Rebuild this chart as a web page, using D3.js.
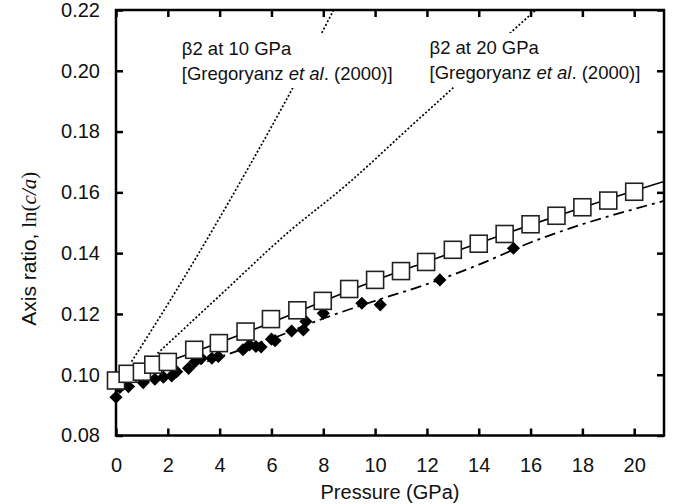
<!DOCTYPE html>
<html lang="en">
<head>
  <meta charset="utf-8">
  <title>Axis ratio vs pressure</title>
  <script src="https://cdnjs.cloudflare.com/ajax/libs/d3/7.6.1/d3.min.js"></script>
  <style>
    body { margin: 0; background: white; }
    text { font-family: "Liberation Sans", Arial, sans-serif; fill: #111; }
  </style>
</head>
<body>
  <div id="chart"></div>
  <script>
    // open squares: pressure (GPa) and ln(c/a)
    const squareP = [0, 0.45, 1, 1.44, 2, 3.02, 3.97, 5, 5.98, 7, 7.98, 9, 10, 11, 11.97, 13, 14, 15, 16, 17, 18, 19, 20];
    const squareV = [0.0981, 0.1003, 0.101, 0.1033, 0.1042, 0.1082, 0.1104, 0.1142, 0.1183, 0.1212, 0.1243, 0.1282,
                     0.1312, 0.1341, 0.1371, 0.1411, 0.1431, 0.1463, 0.1495, 0.1523, 0.1551, 0.1573, 0.1602];

    // filled diamonds
    const diamondP = [0, 0.15, 0.48, 1.05, 1.5, 1.83, 2.15, 2.34, 2.8, 3.05, 3.3, 3.7, 3.95, 4.9, 5.15, 5.4, 5.6,
                      6.0, 6.14, 6.78, 7.23, 7.33, 8.0, 9.49, 10.2, 12.5, 15.34];
    const diamondV = [0.0926, 0.0958, 0.0961, 0.0974, 0.0985, 0.0992, 0.0996, 0.101, 0.1021, 0.1043, 0.1054, 0.1054,
                      0.106, 0.1082, 0.1098, 0.1093, 0.1091, 0.1117, 0.1112, 0.1144, 0.1147, 0.1175, 0.1202, 0.1235,
                      0.123, 0.1312, 0.1416];

    // fitted curves
    const fitSquareP = [0, 1, 2, 4, 6, 8, 10, 12, 14, 16, 18, 20, 21.15];
    const fitSquareV = [0.0982, 0.1012, 0.1043, 0.1106, 0.1172, 0.1242, 0.131, 0.1372, 0.1433, 0.1493, 0.155, 0.1605, 0.1636];
    const fitDiamondP = [0, 2, 4, 6, 8, 10, 12, 14, 16, 18, 20, 21.15];
    const fitDiamondV = [0.0945, 0.0998, 0.1058, 0.1118, 0.1185, 0.1243, 0.1298, 0.1362, 0.1435, 0.1495, 0.1545, 0.1572];

    // beta2 curves (Gregoryanz et al. 2000)
    const beta10P = [0.6, 2.34, 5.15, 6.85, 8.4];
    const beta10V = [0.1043, 0.1279, 0.1687, 0.1948, 0.22];
    const beta20P = [1.6, 3.9, 6.6, 8.9, 11.5, 13.2, 15.2, 16.2];
    const beta20V = [0.107, 0.1252, 0.1465, 0.1625, 0.1827, 0.1959, 0.2123, 0.22];

    const xTicks = [0, 2, 4, 6, 8, 10, 12, 14, 16, 18, 20];
    const yTicks = [0.08, 0.10, 0.12, 0.14, 0.16, 0.18, 0.20, 0.22];

    const zip = (xs, ys) => xs.map((x, i) => ({ p: x, v: ys[i] }));

    createChart('#chart', 680, 504);

    function createChart(elementId, width, height) {
      const margin = { left: 116, top: 10, right: 16, bottom: 68.5 };
      const w = width - margin.left - margin.right;
      const h = height - margin.top - margin.bottom;

      const svg = d3.select(elementId)
        .append('svg')
        .attr('width', width)
        .attr('height', height)
        .append('g')
        .attr('transform', `translate(${margin.left}, ${margin.top})`);

      const xScale = d3.scaleLinear().domain([0, 21.15]).range([0, w]);
      const yScale = d3.scaleLinear().domain([0.08, 0.22]).range([h, 0]);

      svg.append('clipPath').attr('id', 'plot-clip')
        .append('rect').attr('width', w).attr('height', h);

      // axes with inward ticks
      const styleAxis = g => {
        g.select('.domain').remove();
        g.selectAll('.tick line').attr('stroke', '#000').attr('stroke-width', 2.5);
        g.selectAll('.tick text')
          .style('font-family', '"Liberation Sans", Arial, sans-serif')
          .style('font-size', '20px')
          .attr('fill', '#111');
      };

      svg.append('g')
        .attr('transform', `translate(0, ${h})`)
        .call(d3.axisBottom(xScale).tickValues(xTicks).tickSizeInner(-7).tickSizeOuter(0).tickPadding(22))
        .call(styleAxis);

      svg.append('g')
        .call(d3.axisTop(xScale).tickValues(xTicks).tickSizeInner(-7).tickSizeOuter(0).tickFormat(''))
        .call(styleAxis);

      svg.append('g')
        .call(d3.axisLeft(yScale).tickValues(yTicks).tickSizeInner(-7).tickSizeOuter(0)
          .tickPadding(16).tickFormat(d3.format('.2f')))
        .call(styleAxis);

      svg.append('g')
        .attr('transform', `translate(${w}, 0)`)
        .call(d3.axisRight(yScale).tickValues(yTicks).tickSizeInner(-7).tickSizeOuter(0).tickFormat(''))
        .call(styleAxis);

      const plot = svg.append('g').attr('clip-path', 'url(#plot-clip)');

      const line = d3.line()
        .x(d => xScale(d.p))
        .y(d => yScale(d.v))
        .curve(d3.curveMonotoneX);

      // beta2 dotted lines
      [zip(beta10P, beta10V), zip(beta20P, beta20V)].forEach(pts => {
        plot.append('path')
          .attr('d', line(pts))
          .attr('fill', 'none')
          .attr('stroke', '#000')
          .attr('stroke-width', 1.7)
          .attr('stroke-dasharray', '2 2');
      });

      // labels with white boxes hiding the dotted lines
      const labels = [
        { x: xScale(2.54), y: 45 },
        { x: xScale(12.1), y: 44 }
      ];
      const labelLine1 = ['β2 at 10 GPa', 'β2 at 20 GPa'];
      labels.forEach((pos, i) => {
        const lg = svg.append('g');
        const t = lg.append('text')
          .attr('x', pos.x)
          .attr('y', pos.y)
          .style('font-size', '18.5px');
        t.append('tspan').attr('x', pos.x).text(labelLine1[i]);
        const t2 = t.append('tspan').attr('x', pos.x).attr('dy', 25);
        t2.append('tspan').text('[Gregoryanz ');
        t2.append('tspan').style('font-style', 'italic').text('et al');
        t2.append('tspan').text('. (2000)]');
        const bb = t.node().getBBox();
        lg.insert('rect', 'text')
          .attr('x', bb.x - 4)
          .attr('y', bb.y - 4)
          .attr('width', bb.width + 8)
          .attr('height', bb.height + 8)
          .attr('fill', 'white');
      });

      // fits
      plot.append('path')
        .attr('d', line(zip(fitDiamondP, fitDiamondV)))
        .attr('fill', 'none')
        .attr('stroke', '#000')
        .attr('stroke-width', 1.8)
        .attr('stroke-dasharray', '11 5 3 5');

      plot.append('path')
        .attr('d', line(zip(fitSquareP, fitSquareV)))
        .attr('fill', 'none')
        .attr('stroke', '#000')
        .attr('stroke-width', 1.6);

      // frame
      svg.append('rect')
        .attr('width', w)
        .attr('height', h)
        .attr('fill', 'none')
        .attr('stroke', '#000')
        .attr('stroke-width', 2.5);

      // diamonds
      svg.selectAll('.diamond')
        .data(zip(diamondP, diamondV))
        .enter()
        .append('path')
        .attr('class', 'diamond')
        .attr('transform', d => `translate(${xScale(d.p)}, ${yScale(d.v)})`)
        .attr('d', d3.symbol(d3.symbolDiamond2, 110)())
        .attr('fill', '#000');

      // squares
      svg.selectAll('.square')
        .data(zip(squareP, squareV))
        .enter()
        .append('rect')
        .attr('class', 'square')
        .attr('x', d => xScale(d.p) - 8.5)
        .attr('y', d => yScale(d.v) - 8.5)
        .attr('width', 17)
        .attr('height', 17)
        .attr('fill', 'white')
        .attr('stroke', '#222')
        .attr('stroke-width', 1.6);

      // axis titles
      svg.append('text')
        .attr('x', w / 2)
        .attr('y', h + 63.5)
        .attr('text-anchor', 'middle')
        .style('font-size', '20px')
        .text('Pressure (GPa)');

      const serif = '"Liberation Serif", "Times New Roman", serif';
      const yTitle = svg.append('text')
        .attr('transform', `translate(${-80}, ${h / 2 + 26}) rotate(-90)`)
        .attr('text-anchor', 'middle')
        .style('font-size', '21px');
      yTitle.append('tspan').text('Axis ratio, ');
      yTitle.append('tspan').style('font-family', serif).text('ln(');
      yTitle.append('tspan').style('font-family', serif).style('font-style', 'italic').text('c/a');
      yTitle.append('tspan').style('font-family', serif).text(')');
    }
  </script>
</body>
</html>
